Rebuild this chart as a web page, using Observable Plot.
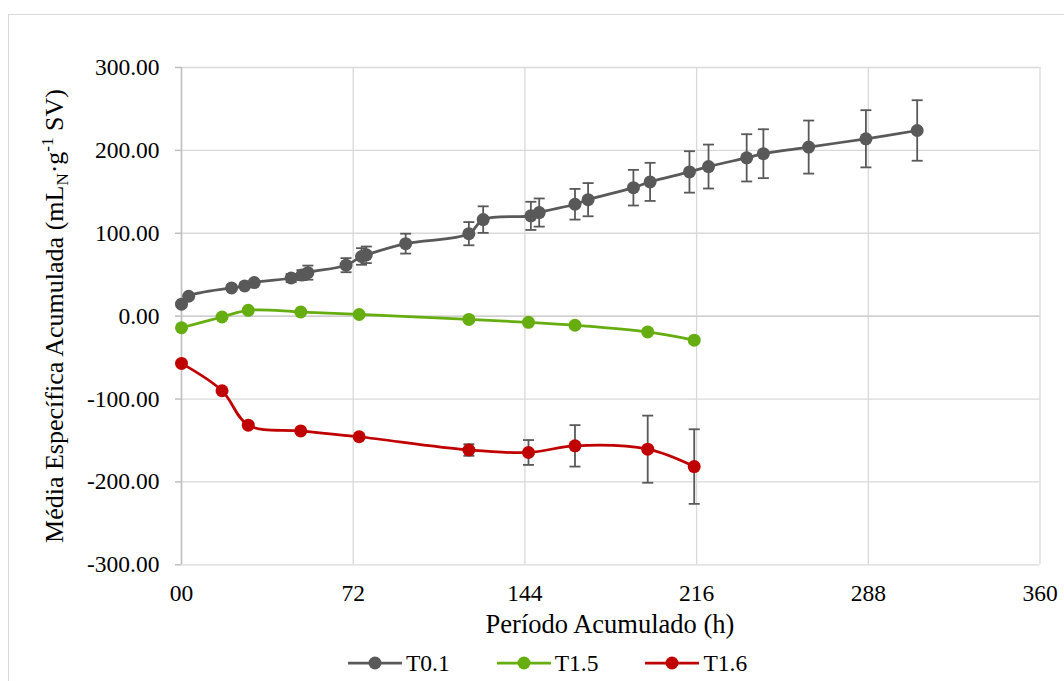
<!DOCTYPE html>
<html>
<head>
<meta charset="utf-8">
<script src="https://cdn.jsdelivr.net/npm/d3@7"></script>
<script src="https://cdn.jsdelivr.net/npm/@observablehq/plot@0.6"></script>
<style>
  html, body { margin: 0; padding: 0; background: #fff; overflow: hidden; }
  #wrap { position: relative; width: 1064px; height: 681px; overflow: hidden; }
  #frame { position: absolute; left: 8px; top: 14px; width: 1200px; height: 800px; border: 1px solid #d9d9d9; }
  #chart { position: absolute; left: 0; top: 0; }
  #legend { position: absolute; left: 348px; top: 645px; height: 36px; display: flex; align-items: center;
            font-family: "Liberation Serif", "Times New Roman", serif; font-size: 23.5px; color: #000; }
  .item { display: flex; align-items: center; margin-right: 47px; }
  .item svg { margin-right: 4px; }
</style>
</head>
<body>
<div id="wrap">
  <div id="frame"></div>
  <div id="chart"></div>
  <div id="legend"></div>
</div>
<script>
// ---- Data ----
const seriesNames = ["T0.1", "T1.5", "T1.6"];
const seriesColors = ["#595959", "#66AD10", "#C00000"];

const hoursT01 = [0, 3, 21, 26.5, 30.5, 46, 50.5, 53, 69, 75.5, 77.5, 94, 120.5, 126.5, 146.5, 150, 165, 170.5, 189.5, 196.5, 213, 221, 237, 244, 263, 287, 308.5];
const meanT01  = [14.5, 24, 34, 36.5, 40.5, 46, 49.5, 52.5, 61.5, 72, 74, 87.5, 99.5, 116.5, 121, 125, 135, 140.5, 155, 162, 174, 180.5, 191, 196, 204, 214, 224];
const sdT01    = [1, 1, 1.5, 1.5, 2, 5, 6, 8.5, 8.5, 10, 10, 12, 14, 16, 17, 17, 18.5, 20, 21.5, 23, 25, 26.5, 28.5, 29.5, 32, 34.5, 36.5];

const hoursT15 = [0, 17, 28, 50, 74.5, 120.5, 145.5, 165, 195.5, 215];
const meanT15  = [-14, -1, 7, 5, 2, -4, -7.5, -11, -19, -29];

const hoursT16 = [0, 17, 28, 50, 74.5, 120.5, 145.5, 165, 195.5, 215];
const meanT16  = [-57, -90, -131.5, -138.5, -145.5, -161.5, -164.5, -156.5, -160.5, -181.5];
const sdT16    = [0, 0, 0, 0, 0, 7, 15, 25, 40.5, 45];

const xTicks = [0, 72, 144, 216, 288, 360];
const yTicks = [-300, -200, -100, 0, 100, 200, 300];

// ---- Tables built from the arrays ----
const t01 = hoursT01.map((h, i) => ({h, v: meanT01[i], lo: meanT01[i] - sdT01[i], hi: meanT01[i] + sdT01[i]}));
const t15 = hoursT15.map((h, i) => ({h, v: meanT15[i]}));
const t16 = hoursT16.map((h, i) => ({h, v: meanT16[i], lo: meanT16[i] - sdT16[i], hi: meanT16[i] + sdT16[i]}));
const errs = t01.concat(t16);

const capSymbol = { draw(ctx, size) { const r = Math.sqrt(size / Math.PI); ctx.moveTo(-r, 0); ctx.lineTo(r, 0); } };
const errColor = "#595959";

const W = 1064, H = 645;
const chart = Plot.plot({
  width: W, height: H,
  marginLeft: 181, marginRight: 24.5, marginTop: 67, marginBottom: H - 564.3,
  x: {domain: [0, 360], label: null},
  y: {domain: [-300, 300], label: null},
  style: {fontFamily: "'Liberation Serif', 'Times New Roman', serif", fontSize: "23.5px", color: "#000", background: "transparent", overflow: "visible"},
  marks: [
    Plot.gridX({ticks: xTicks, stroke: "#d9d9d9", strokeOpacity: 1, strokeWidth: 1.3}),
    Plot.gridY({ticks: yTicks, stroke: "#d9d9d9", strokeOpacity: 1, strokeWidth: 1.3}),
    Plot.ruleY([0], {stroke: "#cfcfcf", strokeWidth: 1.5}),
    Plot.ruleX([0], {stroke: "#bfbfbf", strokeWidth: 1.5}),
    Plot.axisY({ticks: yTicks, tickSize: 6, tickPadding: 16, stroke: "#bfbfbf", strokeWidth: 1.5, tickFormat: d => d.toFixed(2)}),
    Plot.axisX({ticks: xTicks, tickSize: 0, tickPadding: 20, tickFormat: d => d === 0 ? "00" : String(d)}),
    Plot.line(t01, {x: "h", y: "v", stroke: seriesColors[0], strokeWidth: 2.75, curve: "catmull-rom"}),
    Plot.line(t15, {x: "h", y: "v", stroke: seriesColors[1], strokeWidth: 2.75, curve: "catmull-rom"}),
    Plot.line(t16, {x: "h", y: "v", stroke: seriesColors[2], strokeWidth: 2.75, curve: "catmull-rom"}),
    Plot.ruleX(errs, {x: "h", y1: "lo", y2: "hi", stroke: errColor, strokeWidth: 1.8}),
    Plot.dot(errs, {x: "h", y: "lo", r: 5.5, symbol: capSymbol, fill: "none", stroke: errColor, strokeWidth: 1.8}),
    Plot.dot(errs, {x: "h", y: "hi", r: 5.5, symbol: capSymbol, fill: "none", stroke: errColor, strokeWidth: 1.8}),
    Plot.dot(t01, {x: "h", y: "v", r: 6.5, fill: seriesColors[0]}),
    Plot.dot(t15, {x: "h", y: "v", r: 6.5, fill: seriesColors[1]}),
    Plot.dot(t16, {x: "h", y: "v", r: 6.5, fill: seriesColors[2]})
  ]
});
document.getElementById("chart").appendChild(chart);

// Axis titles (real text, with sub/superscripts)
const svg = d3.select(chart);
svg.append("text")
  .attr("x", 610).attr("y", 633).attr("text-anchor", "middle")
  .style("font-size", "26.5px").attr("fill", "#000")
  .text("Período Acumulado (h)");

const yt = svg.append("text")
  .attr("transform", "translate(63,316) rotate(-90)")
  .attr("text-anchor", "middle")
  .style("font-size", "26px").attr("fill", "#000");
yt.append("tspan").text("Média Específica Acumulada (mL");
yt.append("tspan").attr("dy", 5).style("font-size", "17px").text("N");
yt.append("tspan").attr("dy", -5).text("·g");
yt.append("tspan").attr("dy", -10).style("font-size", "17px").text("-1");
yt.append("tspan").attr("dy", 10).text(" SV)");

// Legend (below the SVG)
const legend = d3.select("#legend");
seriesNames.forEach((name, i) => {
  const it = legend.append("div").attr("class", "item");
  const s = it.append("svg").attr("width", 54).attr("height", 16);
  s.append("line").attr("x1", 0).attr("x2", 54).attr("y1", 8).attr("y2", 8)
    .attr("stroke", seriesColors[i]).attr("stroke-width", 2.75);
  s.append("circle").attr("cx", 27).attr("cy", 8).attr("r", 6.5).attr("fill", seriesColors[i]);
  it.append("span").text(name);
});
</script>
</body>
</html>
